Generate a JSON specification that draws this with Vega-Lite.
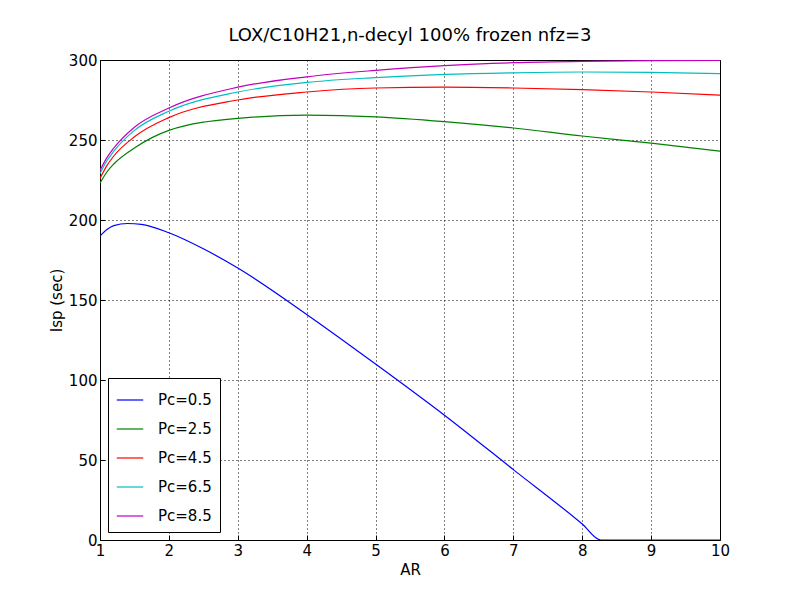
{
  "$schema": "https://vega.github.io/schema/vega-lite/v6.json",
  "width": 620,
  "height": 480,
  "autosize": "none",
  "padding": {"left": 100, "top": 60, "right": 80, "bottom": 60},
  "background": "white",
  "title": {"text": "LOX/C10H21,n-decyl 100% frozen nfz=3", "fontSize": 18, "fontWeight": "normal", "font": "DejaVu Sans", "offset": 8},
  "data": {"values": [
    {"AR": 1.0, "Isp": 190, "s": "Pc=0.5"}, {"AR": 1.1, "Isp": 194, "s": "Pc=0.5"}, {"AR": 1.2, "Isp": 196.5, "s": "Pc=0.5"}, {"AR": 1.4, "Isp": 197.8, "s": "Pc=0.5"}, {"AR": 1.6, "Isp": 197.3, "s": "Pc=0.5"}, {"AR": 2, "Isp": 192, "s": "Pc=0.5"}, {"AR": 2.5, "Isp": 182, "s": "Pc=0.5"}, {"AR": 3, "Isp": 170, "s": "Pc=0.5"}, {"AR": 4, "Isp": 141, "s": "Pc=0.5"}, {"AR": 5, "Isp": 110, "s": "Pc=0.5"}, {"AR": 6, "Isp": 78, "s": "Pc=0.5"}, {"AR": 7, "Isp": 44, "s": "Pc=0.5"}, {"AR": 8, "Isp": 10, "s": "Pc=0.5"}, {"AR": 8.27, "Isp": 0, "s": "Pc=0.5"}, {"AR": 10, "Isp": 0, "s": "Pc=0.5"},
    {"AR": 1.0, "Isp": 223, "s": "Pc=2.5"}, {"AR": 1.1, "Isp": 230, "s": "Pc=2.5"}, {"AR": 1.2, "Isp": 235, "s": "Pc=2.5"}, {"AR": 1.5, "Isp": 245, "s": "Pc=2.5"}, {"AR": 2, "Isp": 256, "s": "Pc=2.5"}, {"AR": 3, "Isp": 263.5, "s": "Pc=2.5"}, {"AR": 4, "Isp": 265.5, "s": "Pc=2.5"}, {"AR": 5, "Isp": 264.5, "s": "Pc=2.5"}, {"AR": 6, "Isp": 261.5, "s": "Pc=2.5"}, {"AR": 7, "Isp": 257.5, "s": "Pc=2.5"}, {"AR": 8, "Isp": 252.5, "s": "Pc=2.5"}, {"AR": 9, "Isp": 248, "s": "Pc=2.5"}, {"AR": 10, "Isp": 243, "s": "Pc=2.5"},
    {"AR": 1.0, "Isp": 226, "s": "Pc=4.5"}, {"AR": 1.1, "Isp": 234, "s": "Pc=4.5"}, {"AR": 1.2, "Isp": 240, "s": "Pc=4.5"}, {"AR": 1.5, "Isp": 252, "s": "Pc=4.5"}, {"AR": 2, "Isp": 264, "s": "Pc=4.5"}, {"AR": 3, "Isp": 275, "s": "Pc=4.5"}, {"AR": 4, "Isp": 280, "s": "Pc=4.5"}, {"AR": 5, "Isp": 282.5, "s": "Pc=4.5"}, {"AR": 6, "Isp": 283, "s": "Pc=4.5"}, {"AR": 7, "Isp": 282.5, "s": "Pc=4.5"}, {"AR": 8, "Isp": 281.5, "s": "Pc=4.5"}, {"AR": 9, "Isp": 280, "s": "Pc=4.5"}, {"AR": 10, "Isp": 278, "s": "Pc=4.5"},
    {"AR": 1.0, "Isp": 229, "s": "Pc=6.5"}, {"AR": 1.1, "Isp": 237, "s": "Pc=6.5"}, {"AR": 1.2, "Isp": 243, "s": "Pc=6.5"}, {"AR": 1.5, "Isp": 256, "s": "Pc=6.5"}, {"AR": 2, "Isp": 268, "s": "Pc=6.5"}, {"AR": 3, "Isp": 280, "s": "Pc=6.5"}, {"AR": 4, "Isp": 286, "s": "Pc=6.5"}, {"AR": 5, "Isp": 289, "s": "Pc=6.5"}, {"AR": 6, "Isp": 291, "s": "Pc=6.5"}, {"AR": 7, "Isp": 292, "s": "Pc=6.5"}, {"AR": 8, "Isp": 292.5, "s": "Pc=6.5"}, {"AR": 9, "Isp": 292.3, "s": "Pc=6.5"}, {"AR": 10, "Isp": 291.5, "s": "Pc=6.5"},
    {"AR": 1.0, "Isp": 231, "s": "Pc=8.5"}, {"AR": 1.1, "Isp": 239, "s": "Pc=8.5"}, {"AR": 1.2, "Isp": 245, "s": "Pc=8.5"}, {"AR": 1.5, "Isp": 258, "s": "Pc=8.5"}, {"AR": 2, "Isp": 270, "s": "Pc=8.5"}, {"AR": 3, "Isp": 283, "s": "Pc=8.5"}, {"AR": 4, "Isp": 289.5, "s": "Pc=8.5"}, {"AR": 5, "Isp": 293.5, "s": "Pc=8.5"}, {"AR": 6, "Isp": 296.5, "s": "Pc=8.5"}, {"AR": 7, "Isp": 298.3, "s": "Pc=8.5"}, {"AR": 8, "Isp": 299.2, "s": "Pc=8.5"}, {"AR": 9, "Isp": 299.6, "s": "Pc=8.5"}, {"AR": 10, "Isp": 299.7, "s": "Pc=8.5"}
  ]},
  "mark": {"type": "line", "interpolate": "monotone", "strokeWidth": 1.2, "clip": true},
  "encoding": {
    "x": {"field": "AR", "type": "quantitative", "title": "AR", "scale": {"domain": [1, 10], "nice": false, "zero": false},
      "axis": {"values": [1,2,3,4,5,6,7,8,9,10]}},
    "y": {"field": "Isp", "type": "quantitative", "title": "Isp (sec)", "scale": {"domain": [0, 300], "nice": false},
      "axis": {"values": [0,50,100,150,200,250,300]}},
    "color": {"field": "s", "type": "nominal", "title": null,
      "scale": {"domain": ["Pc=0.5","Pc=2.5","Pc=4.5","Pc=6.5","Pc=8.5"], "range": ["#0000ff","#008000","#ff0000","#00bfbf","#bf00bf"]},
      "legend": {"orient": "bottom-left", "offset": 8, "symbolType": "stroke", "symbolSize": 700, "symbolStrokeWidth": 1.2, "labelFontSize": 15, "labelFont": "DejaVu Sans", "rowPadding": 7, "padding": 8, "strokeColor": "black", "fillColor": "white", "labelOffset": 14}}
  },
  "config": {
    "view": {"stroke": "black", "strokeWidth": 1},
    "axis": {"grid": true, "gridColor": "black", "gridDash": [1, 3], "gridOpacity": 1, "domain": false, "tickColor": "black", "tickSize": -5, "labelFlush": false, "labelFont": "DejaVu Sans", "labelFontSize": 15, "labelColor": "black", "titleFont": "DejaVu Sans", "titleFontSize": 15, "titleFontWeight": "normal", "titleColor": "black", "labelPadding": 8}
  }
}
